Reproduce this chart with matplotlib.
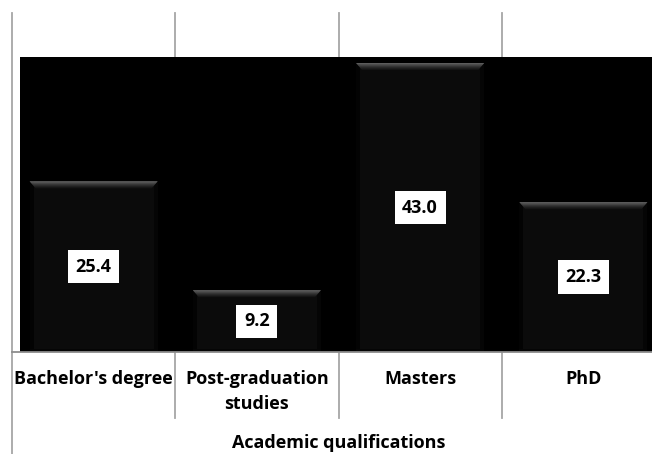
import matplotlib
matplotlib.use("Agg")
import matplotlib.pyplot as plt
import numpy as np
from matplotlib.patches import Rectangle, Polygon
import matplotlib.transforms as mtransforms

categories = ["Bachelor's degree", "Post-graduation\nstudies", "Masters", "PhD"]
values = [25.4, 9.2, 43.0, 22.3]
axis_title = "Academic qualifications"

plt.rcParams['font.family'] = ['Open Sans', 'DejaVu Sans']

W, H = 652, 454
fig = plt.figure(figsize=(W / 100, H / 100), dpi=100)
ax_left, ax_right, ax_bottom, ax_top = 12, 665, 352, 13
ax = fig.add_axes([ax_left / W, (H - ax_bottom) / H, (ax_right - ax_left) / W, (ax_bottom - ax_top) / H])

ppu = 6.72  # pixels per unit
ymax = (ax_bottom - ax_top) / ppu
n = len(categories)
ax.set_xlim(-0.5, n - 0.5)
ax.set_ylim(0, ymax)
for s in ax.spines.values():
    s.set_visible(False)
ax.set_yticks([])

xpx = (ax_right - ax_left) / n  # pixels per category
grid_c = '#a6a6a6'
trans = mtransforms.blended_transform_factory(ax.transData, ax.transAxes)
below = (ax_bottom - 418) / (ax_bottom - ax_top)
for b in np.arange(0.5, n - 0.5, 1.0):
    ax.plot([b, b], [1, below], color=grid_c, lw=1.3, transform=trans, clip_on=False, zorder=0.5)
ax.plot([-0.5, -0.5], [1, -(H - ax_bottom) / (ax_bottom - ax_top)], color=grid_c, lw=1.3,
        transform=trans, clip_on=False, zorder=0.5)

# black plot background
bg_left = -0.5 + 8 / xpx
bg_top = (ax_bottom - 57) / ppu
ax.add_patch(Rectangle((bg_left, 0), n + 1, bg_top, facecolor='black', edgecolor='none', zorder=1,
                       clip_on=False))

# baseline
ax.plot([-0.5, n - 0.5], [0, 0], color='#8c8c8c', lw=1.3, zorder=3, clip_on=False)

bar_w = 0.784
ax.bar(range(n), values, width=bar_w, color='#0b0b0b', edgecolor='none', zorder=2)

bev_h = 7 / ppu
bev_d = 6 / xpx
side_d = 4 / xpx
nstr = 12
c_top = np.array([0.50, 0.50, 0.50])
c_bot = np.array([0.07, 0.07, 0.07])
for i, v in enumerate(values):
    x0 = i - bar_w / 2
    x1 = i + bar_w / 2
    ax.add_patch(Rectangle((x0, 0), side_d, v, facecolor='#030303', edgecolor='none', zorder=2.1))
    ax.add_patch(Rectangle((x1 - side_d, 0), side_d, v, facecolor='#050505', edgecolor='none', zorder=2.1))
    ax.add_patch(Rectangle((x0, 0), bar_w, 3 / ppu, facecolor='#050505', edgecolor='none', zorder=2.1))
    for k in range(nstr):
        t0 = k / nstr
        t1 = (k + 1) / nstr
        ya = v - t0 * bev_h
        yb = v - t1 * bev_h
        da = t0 * bev_d
        db = t1 * bev_d
        col = c_top * (1 - t0) ** 1.3 + c_bot * (1 - (1 - t0) ** 1.3)
        ax.add_patch(Polygon([(x0 + da, ya), (x1 - da, ya), (x1 - db, yb), (x0 + db, yb)],
                             closed=True, facecolor=col, edgecolor='none', zorder=2.2))
    ax.text(i, v / 2, f"{v:.1f}", ha='center', va='center', fontsize=13, fontweight='bold',
            color='black', zorder=4,
            bbox=dict(boxstyle='square,pad=0.42', facecolor='white', edgecolor='none'))

ax.set_xticks(range(n))
ax.set_xticklabels(categories, fontsize=13, fontweight='bold', linespacing=1.5)
ax.tick_params(axis='x', length=0, pad=13)

fig.text((ax_left + (ax_right - ax_left) / 2) / W, 6 / H, axis_title, ha='center', va='baseline',
         fontsize=13, fontweight='bold')

fig.savefig('out.png', dpi=100, facecolor='white')
